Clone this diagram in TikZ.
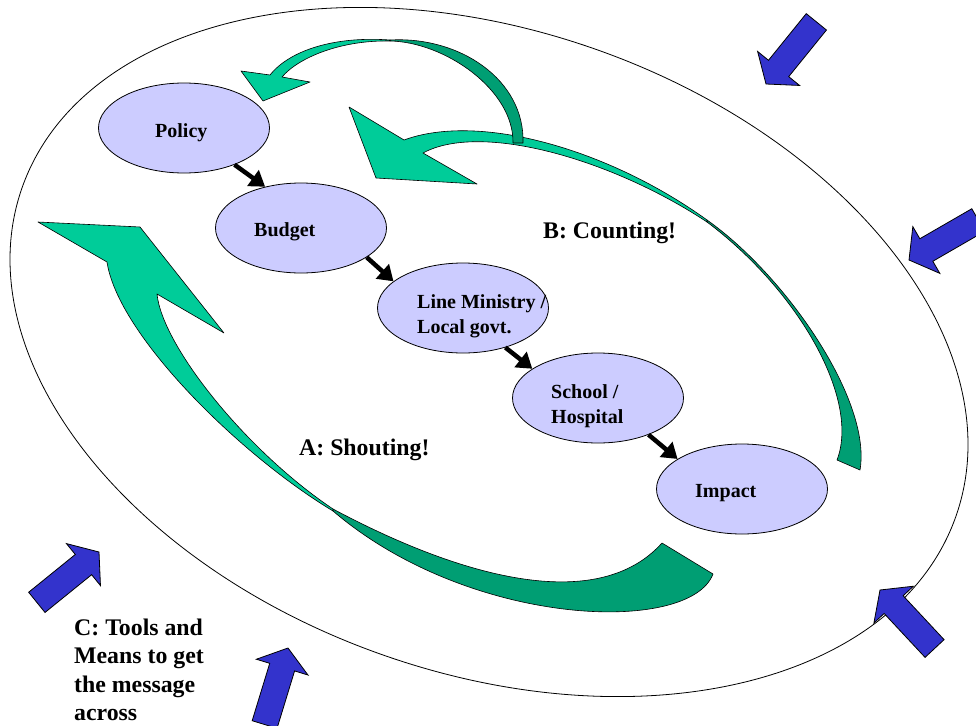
\documentclass[tikz,border=0pt]{standalone}
\usepackage{fontspec}
\setmainfont{Liberation Serif}
\usetikzlibrary{shapes.geometric,arrows.meta}
\definecolor{lav}{HTML}{CCCCFF}
\definecolor{lgreen}{HTML}{00CC99}
\definecolor{dgreen}{RGB}{0,158,115}
\definecolor{bluearr}{HTML}{3333CC}
\newcommand\blockarrow[3]{%
  \begin{scope}[shift={(#1,#2)},rotate=#3]
    \filldraw[bluefill] (0,0) -- (-20,27) -- (-20,13) -- (-80,13) -- (-80,-13) -- (-20,-13) -- (-20,-27) -- cycle;
  \end{scope}}
\tikzset{
  oval/.style={shape=ellipse, draw=black, line width=0.8pt, fill=lav, minimum width=171pt, minimum height=90pt, inner sep=0pt},
  nodetext/.style={anchor=base west, inner sep=0pt, font=\bfseries\fontsize{20}{25}\selectfont},
  bigtext/.style={anchor=base west, inner sep=0pt, font=\bfseries\fontsize{23.8}{28}\selectfont},
  flow/.style={line width=4.5pt, -{Triangle[length=15pt,width=19pt]}},
  lightg/.style={fill=lgreen, draw=black, line width=0.6pt, line join=round},
  darkg/.style={fill=dgreen, draw=black, line width=0.6pt, line join=round},
  bluefill/.style={fill=bluearr, draw=black, line width=0.8pt, line join=miter},
}
\begin{document}
\begin{tikzpicture}[x=1pt,y=-1pt]
\fill[white] (0,0) rectangle (976,725);
\useasboundingbox (0,0) rectangle (976,725);

% outer ellipse
\draw[line width=0.8pt, rotate around={-19.4:(489,352)}] (489,352) ellipse [x radius=495, y radius=321];

% A: Shouting arrow (back face, then front face)
\filldraw[darkg] (333,509) .. controls (470,582) and (600,612) .. (662,543)
  -- (713,574) .. controls (690,635) and (470,628) .. (333,511) -- cycle;
\filldraw[lightg] (333,511) .. controls (240,455) and (118,335) .. (107,262)
  -- (38,222) -- (140,227) -- (224,333) -- (157,294)
  .. controls (162,345) and (245,450) .. (333,509) -- cycle;

% B: Counting arrow
\filldraw[darkg] (707,220) .. controls (785,275) and (872,400) .. (860,470)
  -- (837,460) .. controls (860,400) and (800,292) .. (707,222) -- cycle;
\filldraw[lightg] (707,220) .. controls (610,150) and (480,112) .. (404,140)
  -- (349,107) -- (376,178) -- (477,184) -- (423,153)
  .. controls (480,122) and (610,158) .. (707,222) -- cycle;

% loop arrow back to Policy
\filldraw[darkg] (523,143) .. controls (525,80) and (460,36) .. (390,40)
  -- (390,41) .. controls (445,42) and (514,90) .. (513,143) -- cycle;
\filldraw[lightg] (390,40) .. controls (335,36) and (290,50) .. (270,75)
  -- (241,71) -- (263,101) -- (310,82) -- (282,77)
  .. controls (298,58) and (340,40) .. (390,41) -- cycle;

% chain ovals
\node[oval] (policy) at (184,128) {};
\node[oval] (budget) at (301,228) {};
\node[oval] (ministry) at (463,308) {};
\node[oval] (school) at (598,398) {};
\node[oval] (impact) at (742,489) {};

\node[nodetext] (tpolicy) at (155,137) {Policy};
\node[nodetext] (tbudget) at (254,236) {Budget};
\node[nodetext] (tmin1) at (417,308) {Line Ministry /};
\node[nodetext] (tmin2) at (417,333) {Local govt.};
\node[nodetext] (tsch1) at (551,398) {School /};
\node[nodetext] (tsch2) at (551,423) {Hospital};
\node[nodetext] (timpact) at (695,497) {Impact};

% black flow arrows
\draw[flow] (policy.-36) -- (budget.131);
\draw[flow] (budget.-24) -- (ministry.159);
\draw[flow] (ministry.-43) -- (school.156);
\draw[flow] (school.-36) -- (impact.155);

% labels
\node[bigtext] (lblb) at (543,238) {B: Counting!};
\node[bigtext] (lbla) at (299,455) {A: Shouting!};
\node[bigtext] (lblc1) at (74,635) {C: Tools and};
\node[bigtext] (lblc2) at (74,663) {Means to get};
\node[bigtext] (lblc3) at (74,692) {the message};
\node[bigtext] (lblc4) at (74,720) {across};

% blue block arrows
\blockarrow{766}{84}{231}
\blockarrow{909}{260}{210}
\blockarrow{880}{590}{133}
\blockarrow{99}{552}{39}
\blockarrow{288}{648}{73}
\end{tikzpicture}
\end{document}
